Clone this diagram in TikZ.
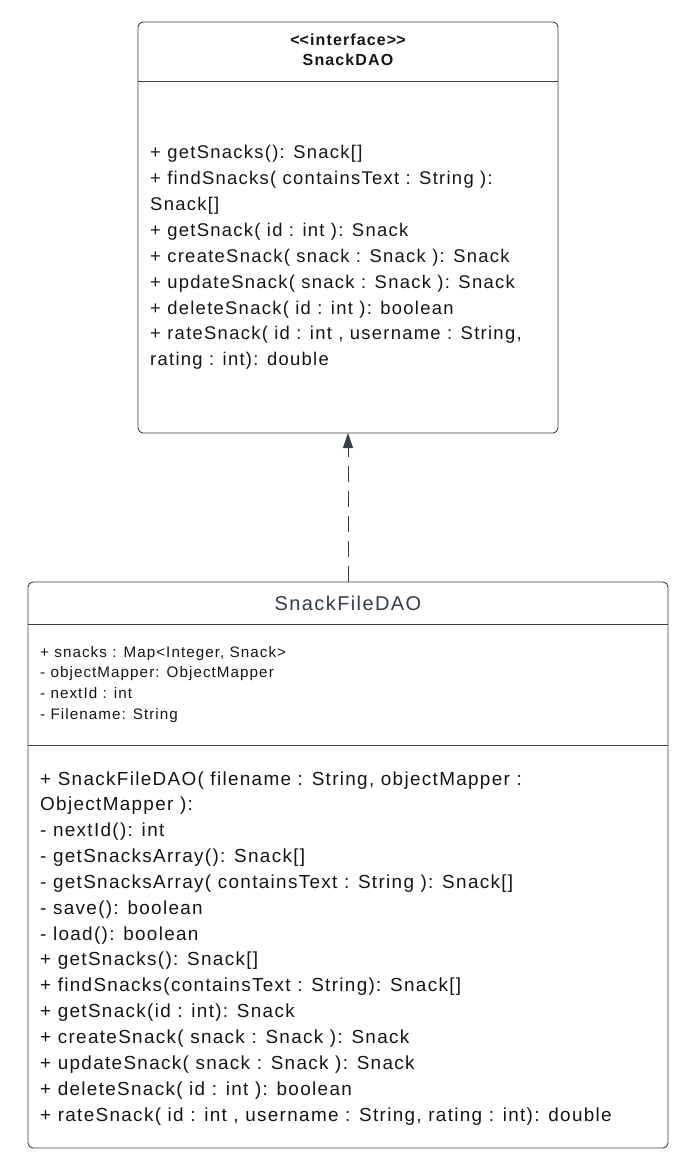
\documentclass[tikz,border=0pt]{standalone}
\usepackage{fontspec}
\setmainfont{Liberation Sans}[LetterSpace=7]
\usetikzlibrary{arrows.meta}
\definecolor{linec}{HTML}{3A3F45}
\definecolor{txt}{HTML}{151515}
\definecolor{titlec}{HTML}{333D47}
\begin{document}
\begin{tikzpicture}[x=1pt,y=-1pt,
  box/.style={draw=linec,line width=0.9pt,rounded corners=5pt,fill=white},
  sep/.style={draw=linec,line width=0.9pt},
  big/.style={anchor=base west,inner sep=0pt,text=txt,font=\fontsize{18.4}{20}\selectfont},
  bigb/.style={anchor=base west,inner sep=0pt,text=txt,font=\fontsize{18.9}{20}\selectfont},
  small/.style={anchor=base west,inner sep=0pt,text=txt,font=\fontsize{15.2}{17}\selectfont},
  hdr/.style={anchor=base,inner sep=0pt,text=txt,font=\fontsize{16}{18}\selectfont\bfseries}]
\useasboundingbox (0,0) rectangle (693,1169);
% interface box
\draw[box] (138,22) rectangle (558,433);
\coordinate (ifaceS) at (348,433);
\draw[sep] (138,81) -- (558,81);
\node[hdr] (st) at (348,45.5) {<\kern0pt<interface>\kern0pt>};
\node[hdr] (nm) at (348,65.5) {SnackDAO};
\foreach \t [count=\i from 0] in {%
  {+ getSnacks(): Snack[]},
  {+ findSnacks( containsText : String ):},
  {Snack[]},
  {+ getSnack( id : int ): Snack},
  {+ createSnack( snack : Snack ): Snack},
  {+ updateSnack( snack : Snack ): Snack},
  {+ deleteSnack( id : int ): boolean},
  {+ rateSnack( id : int , username : String,},
  {rating : int): double}}
  \node[big] (im\i) at (150,{159+25.85*\i}) {\t};
% class box
\draw[box] (28,582) rectangle (668,1148);
\coordinate (clsN) at (348,582);
\draw[sep] (28,624) -- (668,624);
\draw[sep] (28,745) -- (668,745);
\node[anchor=base,inner sep=0pt,text=titlec,font=\fontsize{20}{22}\selectfont] (cn) at (348,610) {SnackFileDAO};
\foreach \t [count=\i from 0] in {%
  {+ snacks : Map<Integer, Snack>},
  {- objectMapper: ObjectMapper},
  {- nextId : int},
  {- Filename: String}}
  \node[small] (at\i) at (40,{657+20.7*\i}) {\t};
\foreach \t [count=\i from 0] in {%
  {+ SnackFileDAO( filename : String, objectMapper :},
  {ObjectMapper ):},
  {- nextId(): int},
  {- getSnacksArray(): Snack[]},
  {- getSnacksArray( containsText : String ): Snack[]},
  {- save(): boolean},
  {- load(): boolean},
  {+ getSnacks(): Snack[]},
  {+ findSnacks(containsText : String): Snack[]},
  {+ getSnack(id : int): Snack},
  {+ createSnack( snack : Snack ): Snack},
  {+ updateSnack( snack : Snack ): Snack},
  {+ deleteSnack( id : int ): boolean},
  {+ rateSnack( id : int , username : String, rating : int): double}}
  \node[bigb] (cm\i) at (40,{785+25.85*\i}) {\t};
% realization arrow
\draw[linec,line width=0.9pt,dash pattern=on 16pt off 9pt,
  -{Triangle[length=15pt,width=10pt]}] (clsN) -- (ifaceS);
\end{tikzpicture}
\end{document}
